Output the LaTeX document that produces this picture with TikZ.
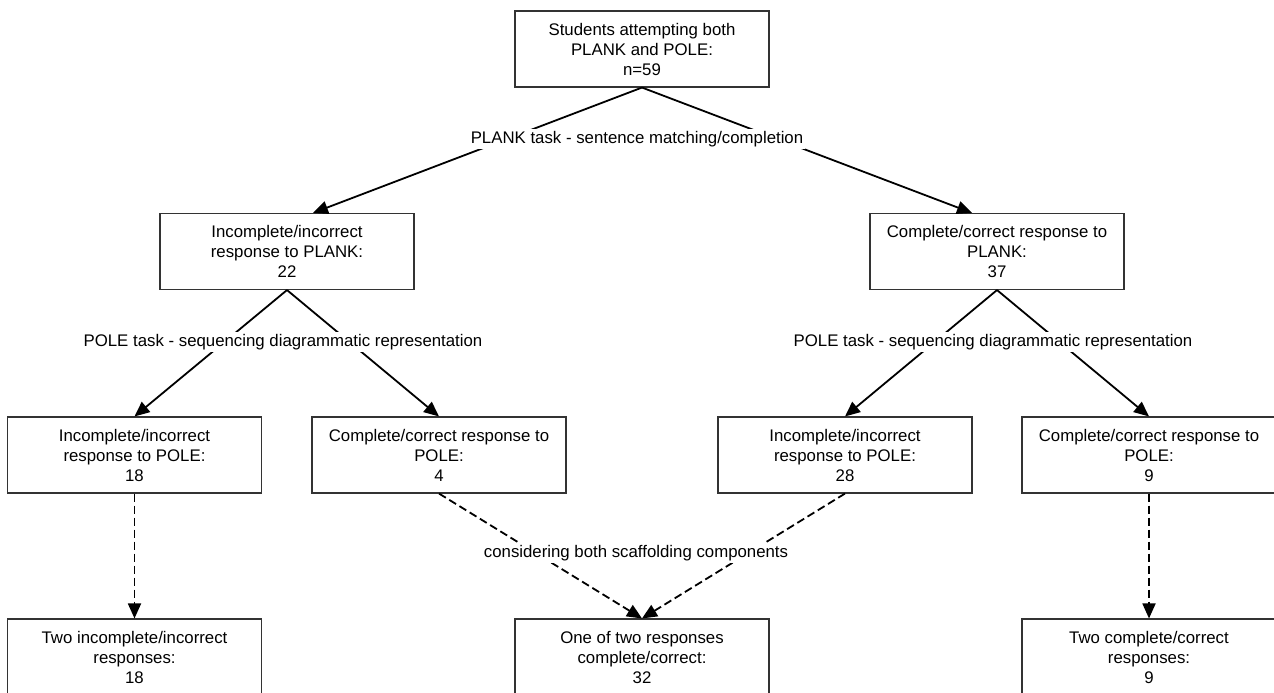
\documentclass[tikz,border=0pt]{standalone}
\usepackage{fontspec}
\setmainfont{Liberation Sans}
\usepackage{tikz}
\usetikzlibrary{arrows.meta}
\tikzstyle{box} = [rectangle, draw=black!80, line width=1.1pt, minimum width=254pt, minimum height=76pt, align=center, font=\fontsize{16.8}{20}\selectfont]
\tikzstyle{lbl} = [fill=white, inner sep=2pt, font=\fontsize{16.8}{20}\selectfont]
\tikzstyle{arrow} = [line width=1.8pt, -{Triangle[length=15pt,width=13pt]}]
\tikzstyle{dasharrow} = [arrow, dash pattern=on 8pt off 4pt]

\begin{document}
\begin{tikzpicture}[x=1pt, y=-1pt]
\useasboundingbox (0,0) rectangle (1274,693);
\clip (0,0) rectangle (1274,693);
\node [box] (s) at (642,49) {Students attempting both\\PLANK and POLE:\\n=59};

\node [box] (a) at (287,251.5) {Incomplete/incorrect\\response to PLANK:\\22};
\node [box] (b) at (997,251.5) {Complete/correct response to\\PLANK:\\37};

\node [box] (a1) at (134.5,455) {Incomplete/incorrect\\response to POLE:\\18};
\node [box] (a2) at (439,455) {Complete/correct response to\\POLE:\\4};
\node [box] (b1) at (845,455) {Incomplete/incorrect\\response to POLE:\\28};
\node [box] (b2) at (1149,455) {Complete/correct response to\\POLE:\\9};

\node [box] (r1) at (134.5,657) {Two incomplete/incorrect\\responses:\\18};
\node [box] (r2) at (642,657) {One of two responses\\complete/correct:\\32};
\node [box] (r3) at (1149,657) {Two complete/correct\\responses:\\9};

\draw [arrow] (s.south) to ([xshift=26pt]a.north);
\draw [arrow] (s.south) to ([xshift=-25pt]b.north);
\draw [arrow] (a.south) to (a1.north);
\draw [arrow] (a.south) to (a2.north);
\draw [arrow] (b.south) to (b1.north);
\draw [arrow] (b.south) to (b2.north);
\draw [dasharrow] (a1.south) to (r1.north);
\draw [dasharrow] (a2.south) to (r2.north);
\draw [dasharrow] (b1.south) to (r2.north);
\draw [dasharrow] (b2.south) to (r3.north);

\node [lbl] (t1) at (637,139) {PLANK task - sentence matching/completion};
\node [lbl] (t2) at (283,342) {POLE task - sequencing diagrammatic representation};
\node [lbl] (t3) at (993,342) {POLE task - sequencing diagrammatic representation};
\node [lbl] (t4) at (636,553) {considering both scaffolding components};
\end{tikzpicture}
\end{document}
